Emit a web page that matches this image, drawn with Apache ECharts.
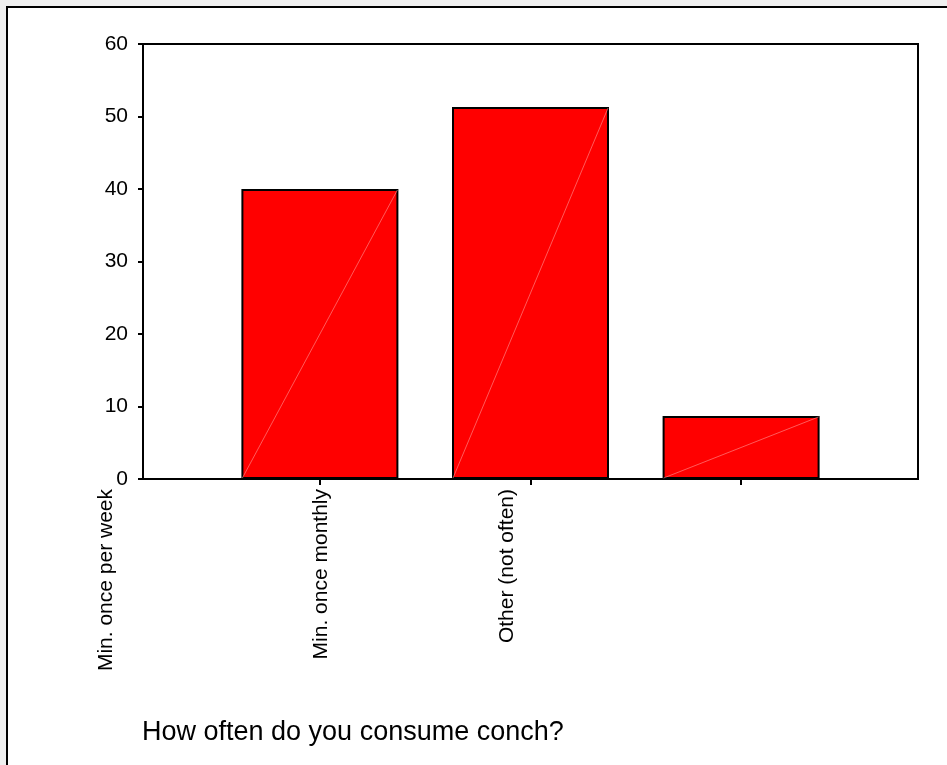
<!DOCTYPE html>
<html lang="en">
<head>
    <meta charset="UTF-8">
    <title>How often do you consume conch?</title>
    <style>
        html, body { margin: 0; padding: 0; background: #f0f0f0; overflow: hidden; }
        #frame {
            position: absolute; left: 6px; top: 6px; width: 1000px; height: 900px;
            background: #fff; border-left: 2px solid #000; border-top: 2px solid #000;
        }
        #main { position: absolute; left: 0; top: 0; width: 947px; height: 765px; }
    </style>
</head>
<body>
<div id="frame"></div>
<div id="main"></div>
<script src="https://cdn.jsdelivr.net/npm/echarts@6/dist/echarts.min.js"></script>
<script>
    // data (percent)
    const categories = ['Min. once per week', 'Min. once monthly', 'Other (not often)'];
    const percents = [40.0, 51.3, 8.7];
    const yMax = 60;
    const yStep = 10;

    // layout only: where the (shifted) category labels sit, in px
    const labelCenters = [106, 321, 507];
    const barWidth = 157;
    const font = "'Liberation Sans', Arial, sans-serif";

    let barData = percents.map((v, i) => [i + 1, v]);

    let myChart = echarts.init(document.getElementById('main'));
    let option = {
        backgroundColor: 'transparent',
        animation: false,
        title: {
            text: 'How often do you consume conch?',
            left: 142,
            top: 719,
            padding: 0,
            textStyle: {fontFamily: font, fontSize: 27, fontWeight: 'normal', color: '#000'}
        },
        grid: [
            {
                left: 143, right: 29, top: 44, bottom: 286,
                show: true, borderColor: '#000', borderWidth: 2, backgroundColor: '#fff'
            },
            {left: 0, right: 0, top: 44, bottom: 286}
        ],
        xAxis: [
            {
                type: 'value',
                gridIndex: 0,
                min: 0.16,
                max: 3.84,
                splitLine: {show: false},
                axisLine: {lineStyle: {color: '#000', width: 2}},
                axisTick: {show: true, customValues: [1, 2, 3], length: 6, lineStyle: {color: '#000', width: 2}},
                axisLabel: {show: false}
            },
            {
                type: 'value',
                gridIndex: 1,
                min: 0,
                max: 947,
                splitLine: {show: false},
                axisLine: {show: false},
                axisTick: {show: false},
                axisLabel: {
                    customValues: labelCenters,
                    rotate: 90,
                    margin: 10,
                    fontFamily: font,
                    fontSize: 21,
                    color: '#000',
                    formatter: function (value) {
                        return categories[labelCenters.indexOf(value)];
                    }
                }
            }
        ],
        yAxis: [
            {
                type: 'value',
                gridIndex: 0,
                min: 0,
                max: yMax,
                interval: yStep,
                splitLine: {show: false},
                axisLine: {show: true, lineStyle: {color: '#000', width: 2}},
                axisTick: {show: true, length: 5, lineStyle: {color: '#000', width: 2}},
                axisLabel: {margin: 15, fontFamily: font, fontSize: 21, color: '#000'}
            },
            {type: 'value', gridIndex: 1, show: false, min: 0, max: 1}
        ],
        series: [
            {
                type: 'bar',
                xAxisIndex: 0,
                yAxisIndex: 0,
                barWidth: barWidth,
                itemStyle: {color: '#ff0000', borderColor: '#000', borderWidth: 2},
                data: barData
            },
            {
                // faint diagonal seam inside each bar
                type: 'custom',
                xAxisIndex: 0,
                yAxisIndex: 0,
                silent: true,
                z: 3,
                renderItem: function (params, api) {
                    let p0 = api.coord([api.value(0), 0]);
                    let p1 = api.coord([api.value(0), api.value(1)]);
                    let half = barWidth / 2 - 1;
                    return {
                        type: 'line',
                        shape: {x1: p0[0] - half, y1: p0[1] - 1, x2: p1[0] + half, y2: p1[1] + 1},
                        style: {stroke: 'rgba(255,150,150,0.6)', lineWidth: 1}
                    };
                },
                data: barData
            }
        ]
    };
    myChart.setOption(option);
    window.addEventListener('resize', function () {
        myChart.resize();
    });
</script>
</body>
</html>
